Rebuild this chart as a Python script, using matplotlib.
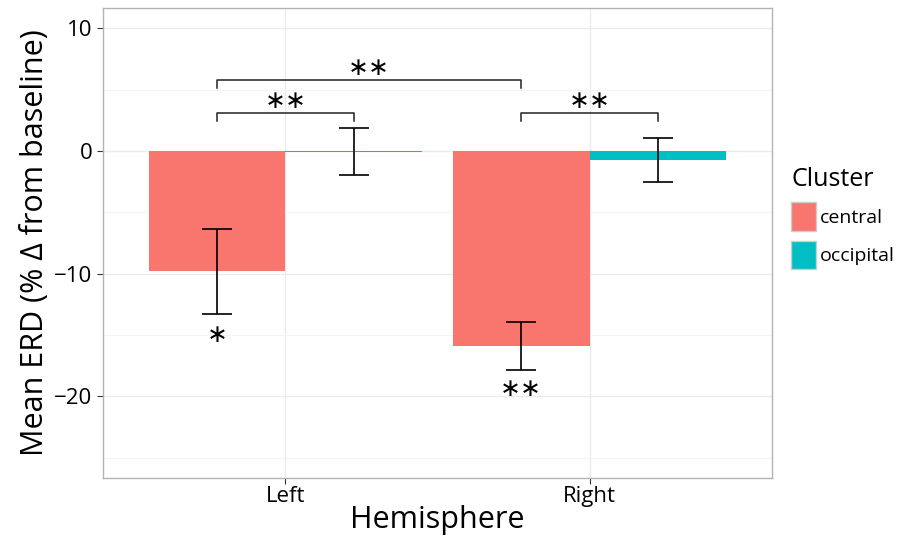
import matplotlib.pyplot as plt
import numpy as np
from matplotlib.patches import Patch

plt.rcParams['font.family'] = ['Open Sans', 'DejaVu Sans']

hemispheres = ['Left', 'Right']
clusters = ['central', 'occipital']
colors = ['#F8766D', '#00BFC4']

# mean ERD and standard error per cluster (Left, Right)
means = {'central': [-9.8, -15.9], 'occipital': [-0.05, -0.7]}
errors = {'central': [3.45, 1.93], 'occipital': [1.92, 1.78]}

# significance brackets: (x1, x2, height, label), x in group units
brackets = [(0.775, 1.775, 5.8, '\u2217\u2217'),
            (0.775, 1.225, 3.1, '\u2217\u2217'),
            (1.775, 2.225, 3.1, '\u2217\u2217')]
# stars under bars: (x, y, label)
bar_stars = [(0.775, -15.0, '\u2217'), (1.775, -19.4, '\u2217\u2217')]

fig = plt.figure(figsize=(9.02, 5.4), dpi=100)
ax = fig.add_axes([0.1142, 0.1148, 0.7417, 0.870])

x = np.arange(1, len(hemispheres) + 1)
w = 0.45
for i, cl in enumerate(clusters):
    xs = x + (i - 0.5) * w
    ax.bar(xs, means[cl], width=w, color=colors[i], linewidth=0, zorder=2)
    ax.errorbar(xs, means[cl], yerr=errors[cl], fmt='none', ecolor='black',
                elinewidth=1.2, capsize=11, capthick=1.2, zorder=3)

star_font = dict(family='DejaVu Sans', fontsize=18, ha='center', va='center')
for x1, x2, h, lab in brackets:
    ax.plot([x1, x1, x2, x2], [h - 0.65, h, h, h - 0.65], color='#222222', lw=1.1, zorder=3)
    ax.text((x1 + x2) / 2, h + 0.95, lab, **star_font)

for sx, sy, lab in bar_stars:
    ax.text(sx, sy, lab, **star_font)

ax.set_xlim(0.4, 2.6)
ax.set_ylim(-26.65, 11.65)
ax.set_xticks(x)
ax.set_xticklabels(hemispheres)
ax.set_yticks([-20, -10, 0, 10])
ax.set_yticks([-25, -15, -5, 5], minor=True)
ax.grid(True, which='major', color='#ebebeb', lw=1.0, zorder=0)
ax.grid(True, which='minor', axis='y', color='#f4f4f4', lw=0.8, zorder=0)
ax.set_axisbelow(True)
ax.tick_params(axis='both', which='major', labelsize=16, length=4, color='#333333', labelcolor='black')
ax.tick_params(axis='x', which='major', pad=2)
ax.tick_params(axis='y', which='minor', length=0)
for s in ax.spines.values():
    s.set_color('#b3b3b3')
    s.set_linewidth(1.0)

ax.set_xlabel('Hemisphere', fontsize=22, labelpad=-2)
ax.set_ylabel('Mean ERD (% \u0394 from baseline)', fontsize=22, labelpad=3)

handles = [Patch(facecolor=c, edgecolor='#cccccc', label=l) for c, l in zip(colors, clusters)]
leg = fig.legend(handles=handles, title='Cluster', loc='upper left',
                 bbox_to_anchor=(0.877, 0.69), frameon=False, fontsize=14,
                 title_fontsize=18, handlelength=1.3, handleheight=1.9,
                 handletextpad=0.2, labelspacing=0.5, borderpad=0, borderaxespad=0)
leg._legend_box.align = 'left'

fig.savefig('out.png', dpi=100)
